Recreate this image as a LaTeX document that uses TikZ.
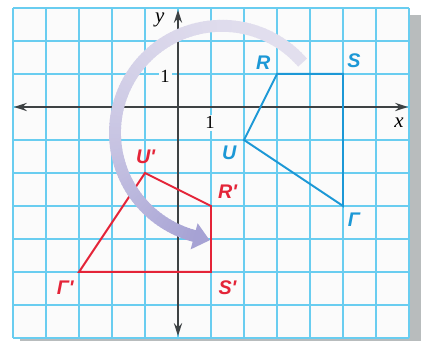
\documentclass[tikz,border=0pt]{standalone}
\usepackage{fontspec}
\setmainfont{Liberation Serif}
\newfontfamily\eckfont{Liberation Sans}
\usepackage{tikz}
\usetikzlibrary{arrows.meta, positioning}

\definecolor{gitterblau}{RGB}{105,205,240}
\definecolor{achsgrau}{RGB}{62,66,68}
\definecolor{bildblau}{RGB}{28,152,214}
\definecolor{bildrot}{RGB}{228,36,56}
\definecolor{pfeilhell}{RGB}{226,223,238}
\definecolor{pfeildunkel}{RGB}{166,162,212}
\definecolor{schatten}{RGB}{184,188,189}
\definecolor{papier}{RGB}{251,251,251}

\begin{document}
\begin{tikzpicture}[
		achse/.style={achsgrau, line width=2pt, {Stealth[length=11pt,width=7pt]}-{Stealth[length=11pt,width=7pt]}},
		gitter/.style={gitterblau, line width=0.9pt},
		urbild/.style={bildblau, line width=1.7pt},
		bild/.style={bildrot, line width=1.7pt},
		ecke/.style={font=\eckfont\bfseries\itshape\fontsize{17}{17}\selectfont, inner sep=1pt},
		zahl/.style={fill=papier, inner sep=1.5pt, font=\fontsize{16}{16}\selectfont},
		achsname/.style={font=\itshape\fontsize{18}{18}\selectfont, inner sep=1pt}
	]
			\useasboundingbox[fill=white] (-5.394,-7.091) rectangle (7.394,3.242);
			
			% Schatten und Papier
			\fill[schatten] (-4.8,-7.3) rectangle (7.36,2.8);
			\fill[papier] (-5,-7) rectangle (7,3);
			
			% Gitternetz
			\draw[gitter] (-5,-7) grid[step=1] (7,3);
			
			% Achsen
			\draw[achse] (-4.97,0) -- (6.97,0);
			\draw[achse] (0,-6.94) -- (0,2.94);
			\node[achsname] (xname) at (6.7,-0.48) {x};
			\node[achsname] (yname) at (-0.55,2.64) {y};
			\node[zahl] (einsx) at (0.97,-0.48) {1};
			\node[zahl] (einsy) at (-0.39,0.94) {1};
			
			% Urbild RSTU
			\coordinate (R) at (3,1);
			\coordinate (S) at (5,1);
			\coordinate (T) at (5,-3);
			\coordinate (U) at (2,-1);
			\draw[urbild] (R) -- (S) -- (T) -- (U) -- cycle;
			
			% Bild nach Drehung um 90 Grad
			\coordinate (R') at (1,-3);
			\coordinate (S') at (1,-5);
			\coordinate (T') at (-3,-5);
			\coordinate (U') at (-1,-2);
			\draw[bild] (R') -- (S') -- (T') -- (U') -- cycle;
			
			% Drehpfeil
			\coordinate (M) at (1.33,-0.78);
			\foreach \w in {41,43,...,253} {
				\pgfmathsetmacro{\anteil}{100*((\w-41)/214)^2}
				\draw[line width=0.36cm, pfeildunkel!\anteil!pfeilhell] ([shift={(\w:3.24)}]M) arc[start angle=\w, end angle=\w+2.6, radius=3.24];
			}
			\fill[pfeildunkel] ([shift={(255:2.84)}]M) -- ([shift={(263.5:3.28)}]M) -- ([shift={(255:3.66)}]M) -- cycle;
			
			% Eckpunkte
			\node[ecke, bildblau] (lR) at (2.58,1.33) {R};
			\node[ecke, bildblau] (lS) at (5.33,1.39) {S};
			\node[ecke, bildblau] (lT) at (5.33,-3.42) {Γ};
			\node[ecke, bildblau] (lU) at (1.55,-1.39) {U};
			\node[ecke, bildrot] (lR') at (1.5,-2.58) {R'};
			\node[ecke, bildrot] (lS') at (1.5,-5.48) {S'};
			\node[ecke, bildrot] (lT') at (-3.42,-5.48) {Γ'};
			\node[ecke, bildrot] (lU') at (-0.98,-1.52) {U'};
		\end{tikzpicture}
\end{document}
